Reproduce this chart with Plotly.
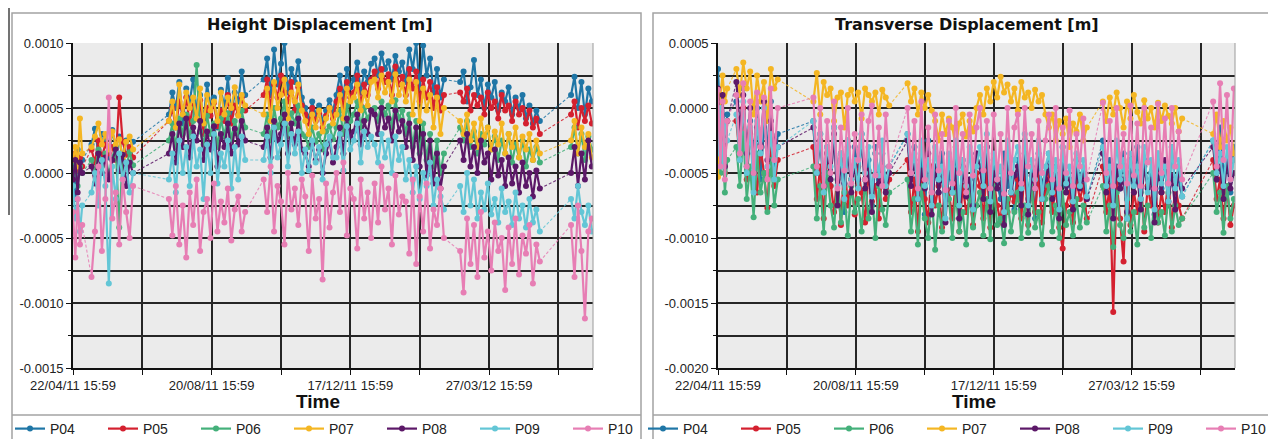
import plotly.graph_objects as go

# ---------------- data (values in units of 1e-5 m) ----------------
X_DAYS = [0, 2, 4, 6, 8,
          16, 19, 22, 25, 28, 31, 34, 37, 40, 43, 46, 49, 52,
          83, 86, 89, 92, 95, 98, 101, 104, 107, 110, 113, 116, 119, 122, 125, 128, 131, 134, 137, 140, 143, 146, 149,
          165, 168, 171, 174, 177, 180, 183, 186, 189, 192, 195, 198, 201, 204, 207, 210, 213, 216, 219, 222, 225,
          228, 231, 234, 237, 240, 243, 246, 249, 252, 255, 258, 261, 264, 267, 270, 273, 276, 279, 282, 285, 288,
          291, 294, 297, 300, 303, 306, 309, 312, 315, 318, 321,
          335, 338, 341, 344, 347, 350, 353, 356, 359, 362, 365, 368, 371, 374, 377, 380, 383, 386, 389, 392, 395,
          398, 401, 404,
          431, 434, 437, 440, 443, 446, 449]

TICK_DAYS = [0, 120, 240, 360]
TICK_LABELS = ["22/04/11 15:59", "20/08/11 15:59", "17/12/11 15:59", "27/03/12 15:59"]

H_TICKS = [0.0010, 0.0005, 0.0, -0.0005, -0.0010, -0.0015]
H_TICK_TEXT = ["0.0010", "0.0005", "0.0000", "-0.0005", "-0.0010", "-0.0015"]
T_TICKS = [0.0005, 0.0, -0.0005, -0.0010, -0.0015, -0.0020]
T_TICK_TEXT = ["0.0005", "0.0000", "-0.0005", "-0.0010", "-0.0015", "-0.0020"]

SERIES = ["P04", "P05", "P06", "P07", "P08", "P09", "P10"]
COLORS = ["#1f76a6", "#d4202f", "#44b07a", "#f4b623", "#5c1868", "#63c6d6", "#e77eb4"]

# Height displacement
H_P04 = [12, -20, 18, 4, 10,
         22, 34, 15, 30, 26, 12, 33, 20, 28, 10, 25, 18, 24,
         45, 62, 50, 70, 38, 65, 55, 72, 48, 60, 40, 68, 52, 58, 35, 64, 50, 73, 45, 62, 55, 78, 60,
         72, 88, 60, 95, 68, 84, 100, 62, 80, 70, 86, 58,
         50, 42, 55, 45, 52, 40, 48, 56, 47,
         60, 75, 58, 80, 66, 72, 85, 62, 78, 70, 84,
         88, 75, 92, 80, 86, 72, 90, 78, 85,
         70, 95, 80, 100, 65, 98, 75, 88, 62, 80, 58, 72,
         70, 78, 55, 66, 87, 60, 72, 50, 68, 58, 70, 48, 62, 55, 66, 45, 58, 50, 60, 42, 52, 38, 48, 40,
         60, 74, 50, 70, 45, 65, 55]
H_P05 = [10, 15, 2, 12, 5,
         18, 8, 25, 12, 22, 15, 20, 10, 58, 24, 14, 20, 12,
         40, 50, 35, 55, 45, 58, 38, 52, 42, 56, 30, 50, 44, 54, 36, 48, 40, 60, 38, 52, 45, 58, 48,
         60, 72, 50, 68, 58, 75, 62, 55, 70, 48, 66, 52,
         45, 38, 50, 40, 46, 35, 44, 50, 42,
         55, 65, 50, 70, 58, 62, 75, 52, 68, 60, 72,
         78, 65, 80, 70, 76, 60, 82, 68, 74,
         60, 80, 65, 78, 55, 72, 58, 70, 50, 66, 48, 60,
         62, 55, 65, 48, 60, 52, 58, 45, 62, 50, 55, 42, 60, 48, 52, 40, 55, 45, 50, 38, 48, 35, 42, 30,
         45, 55, 35, 50, 40, 52, 38]
H_P06 = [-5, 8, -10, 5, 0,
         10, 0, 18, 5, 15, -2, 12, 20, -42, 14, 4, 16, 6,
         25, 38, 20, 42, 30, 45, 28, 40, 83, 32, 22, 44, 30, 38, 20, 42, 28, 46, 25, 40, 30, 48, 35,
         30, 45, 25, 50, 35, 42, 55, 28, 46, 38, 52, 30,
         28, 20, 35, 24, 30, 18, 32, 36, 26,
         35, 48, 30, 52, 40, 45, 55, 35, 50, 42, 48,
         50, 40, 55, 45, 52, 35, 56, 42, 48,
         30, 45, 20, 40, 15, 38, 10, 30, 5, 25, 0, 15,
         35, 25, 40, 20, 32, 15, 30, 22, 35, 18, 28, 10, 25, 15, 30, 8, 22, 12, 25, 5, 18, 10, 20, 8,
         20, 35, 15, 30, 10, 28, 18]
H_P07 = [10, 20, 5, 42, 15,
         20, 28, 38, 22, 30, 18, 32, 22, 26, 12, 24, 28, 18,
         40, 55, 35, 68, 45, 62, 50, 58, 42, 65, 38, 60, 48, 55, 40, 62, 45, 58, 50, 66, 44, 60, 52,
         45, 65, 40, 70, 50, 60, 72, 42, 62, 55, 68, 48,
         40, 30, 45, 35, 48, 32, 42, 50, 38,
         45, 60, 42, 65, 55, 58, 68, 48, 62, 52, 70,
         72, 58, 75, 62, 70, 55, 76, 60, 68,
         55, 72, 45, 70, 40, 65, 48, 60, 35, 58, 30, 50,
         40, 30, 45, 25, 38, 20, 42, 28, 35, 18, 32, 22, 38, 15, 30, 20, 35, 12, 28, 18, 30, 10, 25, 15,
         25, 40, 15, 35, 20, 30, 12]
H_P08 = [-5, 10, -15, 8, 0,
         5, -8, 15, 0, 12, -5, 10, 18, 2, 14, -10, 8, 0,
         15, 30, 8, 38, 20, 42, 12, 35, 25, 40, 10, 32, 18, 36, 5, 30, 20, 38, 15, 34, 22, 40, 25,
         20, 35, 12, 40, 25, 30, 45, 15, 38, 22, 42, 18,
         15, 5, 22, 10, 18, 0, 15, 25, 8,
         20, 35, 15, 42, 28, 32, 45, 22, 40, 30, 48,
         45, 30, 50, 35, 42, 25, 48, 32, 40,
         20, 38, 10, 35, 5, 30, -2, 25, -8, 15, -12, 5,
         25, 10, 30, 5, 20, 0, 25, 8, 15, -5, 18, -2, 10, -10, 12, -8, 5, -15, 8, -10, 0, -18, 2, -12,
         0, 20, -10, 15, -5, 25, 5]
H_P09 = [-10, -35, -20, -45, -25,
         -15, 0, -25, 10, -10, -85, 5, -20, 15, -5, 8, -15, 0,
         -5, 15, -15, 25, 0, 20, -10, 28, 5, 18, -20, 22, 0, 30, -8, 15, 5, 25, -12, 20, -5, 28, 10,
         10, 28, 0, 35, 12, 22, 38, 5, 30, 15, 32, 0,
         18, 2, 25, 8, 20, -5, 22, 28, 12,
         12, 30, 2, 36, 18, 25, 38, 8, 32, 20, 28,
         22, 8, 30, 12, 25, 0, 28, 10, 20,
         -5, 10, -15, 5, -20, 0, -10, 8, -25, -5, -18, -28,
         -10, -30, 0, -25, -5, -35, -15, -28, -8, -32, -20, -38, -12, -30, -22, -40, -15, -35, -25, -42, -20,
         -38, -28, -45,
         -20, -35, -10, -30, -40, -25, -45]
H_P10 = [-30, -65, -20, -55, -40,
         -80, -45, 5, -60, -20, 58, -35, -15, -55, -5, -30, -50, -10,
         -20, -48, -10, -55, -25, -65, -15, -40, -5, -60, -30, -20, -50, -8, -45, -22, -38, -12, -52, -28,
         -18, -45, -30,
         -5, -30, 5, -45, -10, -22, -55, 0, -28, -12, -40, -5,
         -18, -60, -2, -35, -20, -82, -8, -42, -15,
         0, -30, 8, -48, -12, -20, -58, -5, -35, -15, -50,
         -8, -38, 5, -28, -12, -55, -2, -32, -18,
         -22, -62, -5, -70, -18, -45, -8, -58, -28, -40, -12, -50,
         -60, -92, -35, -70, -40, -80, -30, -65, -45, -75, -38, -60, -50, -90, -42, -70, -35, -78, -48, -62,
         -40, -85, -55, -68,
         -40, -80, -25, -60, -112, -45, -35]

# Transverse displacement
T_P04 = [30, -20, 10, -40, -5,
         5, -25, 15, -45, -10, -35, 0, -55, -15, -30, 5, -50, -20,
         -10, -45, -20, -55, -30, -60, -15, -50, -35, -80, -25, -55, -30, -60, -20, -55, -40, -75, -30, -55,
         -35, -62, -45,
         -20, -55, -30, -60, -40, -82, -25, -58, -45, -65, -35, -60,
         -50, -65, -30, -85, -40, -60, -55, -70, -35,
         -45, -62, -30, -80, -40, -58, -70, -35, -60, -50, -78,
         -40, -62, -25, -70, -45, -85, -35, -60, -50,
         -35, -62, -45, -78, -30, -60, -55, -80, -40, -58, -50, -70,
         -25, -60, -40, -75, -50, -62, -35, -85, -45, -58, -30, -70, -40, -60, -50, -82, -35, -62, -45, -75,
         -30, -60, -55, -68,
         -25, -55, -15, -50, -40, -65, -30]
T_P05 = [0, -30, -15, -50, -10,
         -10, -40, 0, -55, -20, -45, -65, -30, -50, -77, -25, -60, -40,
         -30, -70, -45, -85, -35, -60, -80, -50, -90, -40, -75, -55, -82, -45, -65, -88, -50, -72, -60, -85,
         -45, -70, -55,
         -40, -80, -55, -95, -50, -70, -88, -45, -75, -60, -92, -50,
         -65, -85, -55, -95, -60, -80, -70, -90, -50,
         -60, -85, -45, -92, -55, -75, -88, -50, -80, -65, -72,
         -55, -85, -45, -90, -60, -80, -50, -88, -65,
         -50, -80, -60, -92, -108, -75, -65, -88, -55, -70, -60, -85,
         -45, -80, -60, -157, -55, -85, -118, -50, -90, -65, -80, -55, -95, -60, -75, -50, -88, -65, -80, -55,
         -92, -60, -75, -85,
         -40, -70, -55, -85, -60, -90, -75]
T_P06 = [-20, -50, -30, -65, -40,
         -30, -60, -20, -70, -45, -84, -35, -65, -50, -80, -40, -75, -55,
         -45, -85, -60, -96, -50, -75, -92, -55, -88, -65, -98, -60, -80, -70, -95, -55, -85, -65, -100, -60,
         -78, -90, -65,
         -55, -95, -70, -105, -60, -85, -100, -65, -109, -75, -95, -60,
         -70, -100, -65, -95, -80, -105, -60, -92, -75,
         -65, -98, -70, -101, -60, -90, -85, -104, -70, -95, -80,
         -65, -100, -75, -96, -60, -92, -80, -105, -70,
         -60, -95, -75, -100, -65, -90, -80, -98, -70, -92, -75, -88,
         -60, -95, -75, -107, -65, -90, -100, -70, -95, -80, -105, -65, -92, -75, -100, -70, -88, -80, -98,
         -65, -95, -75, -90, -85,
         -50, -80, -65, -96, -60, -85, -70]
T_P07 = [-53, 10, 25, 5, 15,
         30, 10, 35, 15, 28, -5, 25, 5, 20, -10, 30, 15, 22,
         5, 27, -5, 20, 10, 15, -10, 8, 12, -15, 10, 14, 5, 12, -8, 15, 10, 5, 12, -5, 14, 8, 2,
         19, 5, 15, -5, 12, 0, 10, -2,
         -10, -25, -5, -20, -8, -15, -30, -12, -5, -22, -10, -18,
         0, 10, -5, 15, 5, 20, 8, 24, 12, 18, 5, 15, -2, 20, 8, 12, 0, 14, 5, 10, -5,
         -15, -5, -25, -10, -20, -8, -30, -12, -18, -5, -25, -15,
         5, -10, 8, -5, 12, 0, -15, 5, -8, 10, -3, -12, 6, -8, 0, -15, 4, -10, 2, -6, -12, 0, -18, -8,
         -20, -5, -30, -10, -25, -15, -35]
T_P08 = [15, -25, 10, -45, -10,
         20, -15, 10, -35, 0, -50, -15, -28, 5, -40, -10, -25, -30,
         -15, -50, -25, -60, -35, -55, -20, -75, -40, -58, -30, -65, -45, -55, -25, -62, -48, -80, -35, -58,
         -45, -65, -50,
         -25, -60, -40, -70, -48, -62, -35, -82, -45, -65, -50, -88,
         -40, -62, -48, -85, -45, -68, -55, -75, -35,
         -45, -70, -30, -80, -50, -62, -55, -90, -40, -65, -52,
         -45, -75, -35, -82, -52, -62, -40, -70, -55,
         -45, -70, -52, -85, -40, -65, -55, -78, -48, -62, -52, -70,
         -35, -65, -50, -85, -45, -62, -55, -80, -40, -65, -52, -78, -45, -62, -55, -88, -48, -65, -40, -72,
         -52, -78, -45, -62,
         -30, -55, -45, -70, -40, -62, -50]
T_P09 = [-35, 0, -45, -10, -25,
         -5, -40, 5, -50, -15, -65, -10, -35, 0, -45, -20, -55, -30,
         -10, -50, -20, -65, -30, -45, -15, -60, -35, -70, -25, -55, -40, -62, -20, -50, -30, -68, -35, -52,
         -25, -60, -45,
         -20, -50, -35, -70, -25, -60, -40, -75, -30, -55, -45, -85,
         -35, -65, -25, -75, -40, -60, -30, -78, -45,
         -30, -60, -20, -72, -35, -55, -45, -80, -25, -65, -40,
         -30, -62, -20, -75, -40, -55, -25, -70, -45,
         -35, -65, -40, -78, -30, -58, -45, -72, -35, -60, -40, -68,
         -30, -60, -45, -75, -25, -55, -40, -85, -35, -60, -45, -70, -30, -65, -40, -78, -35, -58, -45, -72,
         -30, -62, -40, -68,
         -25, -50, -35, -60, -30, -55, -40]
T_P10 = [14, -45, 5, -55, -10,
         10, -35, 19, -45, 5, -50, 12, -30, 8, -55, 15, -40, 0,
         8, -45, 0, -60, -10, -50, 5, -62, -15, -48, 0, -58, -20, -40, -5, -55, -10, 2, -52, -15, -60, -5, -45,
         0, -50, -10, -62, 5, -55, -15, -65, -5, -48, -20, -63,
         -10, -58, 0, -50, -20, -65, -5, -52, -15,
         0, -48, -10, -62, -5, -55, -20, -66, 0, -50, -15,
         -5, -58, 0, -45, -20, -62, -10, -50, -25,
         -5, -55, 0, -62, -15, -50, -2, -60, -20, -45, -8, -55,
         4, -50, -10, -60, 0, -45, -20, -58, 2, -52, -12, -60, 0, -42, -15, -62, 3, -50, -8, -58, 0, -45,
         -18, -55,
         5, -45, 19, -40, 10, -55, 15]

HEIGHT = [H_P04, H_P05, H_P06, H_P07, H_P08, H_P09, H_P10]
TRANSV = [T_P04, T_P05, T_P06, T_P07, T_P08, T_P09, T_P10]
UNIT = 1e-5
GAP_DAYS = 6

for arr in HEIGHT + TRANSV:
    if len(arr) != len(X_DAYS):
        raise ValueError(f"length mismatch {len(arr)} vs {len(X_DAYS)}")

# ---------------- figure ----------------
# The page body keeps the browser's default 8 px margin, so the figure is 8 px
# smaller on each axis and every position below is given in page pixels.
PAGE_W, PAGE_H = 1276, 439
OFF = 8
W, HH = PAGE_W - OFF, PAGE_H - OFF
FONT = "Liberation Sans, Arial, sans-serif"
TITLE_FONT = "DejaVu Sans, Liberation Sans, Arial, sans-serif"
GRID = "#262626"


def fx(p):
    return (p - OFF) / W


def fy(p):
    return 1 - (p - OFF) / HH


def split(xs, ys):
    sx, sy, dx, dy = [], [], [], []
    for i, (x, y) in enumerate(zip(xs, ys)):
        if i > 0 and x - xs[i - 1] > GAP_DAYS:
            sx.append(None)
            sy.append(None)
            dx += [xs[i - 1], x, None]
            dy += [ys[i - 1], y, None]
        sx.append(x)
        sy.append(y)
    return sx, sy, dx, dy


fig = go.Figure()

panels = [(HEIGHT, "x", "y", "legend"), (TRANSV, "x2", "y2", "legend2")]
for data, xa, ya, lg in panels:
    # dashed connectors between measurement campaigns
    for name, col, vals in zip(SERIES, COLORS, data):
        yv = [v * UNIT for v in vals]
        sx, sy, dx, dy = split(X_DAYS, yv)
        fig.add_trace(go.Scatter(x=dx, y=dy, mode="lines", xaxis=xa, yaxis=ya,
                                 line=dict(color=col, width=1.1, dash="3px,2px"),
                                 opacity=0.85, showlegend=False, legendgroup=lg + name,
                                 hoverinfo="skip"))
    for name, col, vals in zip(SERIES, COLORS, data):
        yv = [v * UNIT for v in vals]
        sx, sy, dx, dy = split(X_DAYS, yv)
        fig.add_trace(go.Scatter(x=sx, y=sy, mode="lines+markers", name=name, xaxis=xa, yaxis=ya,
                                 line=dict(color=col, width=2.2),
                                 marker=dict(color=col, size=6, symbol="circle"),
                                 legend=lg, legendgroup=lg + name, connectgaps=False))


def xaxis_cfg(dom, anchor):
    return dict(domain=dom, anchor=anchor, range=[0, 450], tickmode="array",
                tickvals=TICK_DAYS, ticktext=TICK_LABELS, ticks="outside", ticklen=5,
                tickcolor="#111", tickwidth=1.2,
                showgrid=True, gridcolor=GRID, gridwidth=1.6,
                minor=dict(tickmode="linear", tick0=0, dtick=60, ticks="outside", ticklen=5,
                           tickcolor="#111", showgrid=True, gridcolor=GRID, gridwidth=1.6),
                showline=True, linecolor="#111", linewidth=1.6, zeroline=False,
                tickfont=dict(family=FONT, size=13, color="#222"), fixedrange=True)


def yaxis_cfg(dom, anchor, rng, tv, tt):
    return dict(domain=dom, anchor=anchor, range=rng, tickmode="array",
                tickvals=tv, ticktext=tt, ticks="outside", ticklen=5, tickcolor="#111",
                tickwidth=1.2, showgrid=True, gridcolor=GRID, gridwidth=1.6,
                minor=dict(tickmode="linear", tick0=0, dtick=0.00025, ticks="outside", ticklen=3,
                           tickcolor="#111", showgrid=True, gridcolor=GRID, gridwidth=1.6),
                showline=True, linecolor="#111", linewidth=1.6, zeroline=False,
                tickfont=dict(family=FONT, size=13, color="#222"), fixedrange=True)


ydom = [fy(368), fy(43)]
leg_common = dict(orientation="h", xanchor="left", yanchor="middle", y=fy(429),
                  entrywidth=48, entrywidthmode="pixels",
                  font=dict(family=FONT, size=14, color="#222"),
                  bgcolor="rgba(0,0,0,0)", borderwidth=0, itemwidth=30, traceorder="normal")

shapes = [
    # panel frames
    dict(type="rect", xref="paper", yref="paper", x0=fx(12), x1=fx(641), y0=fy(470), y1=fy(13),
         line=dict(color="#a3a3a3", width=1.5), layer="below"),
    dict(type="rect", xref="paper", yref="paper", x0=fx(653), x1=fx(1300), y0=fy(470), y1=fy(13),
         line=dict(color="#a3a3a3", width=1.5), layer="below"),
    # legend separators
    dict(type="line", xref="paper", yref="paper", x0=fx(12), x1=fx(641), y0=fy(415), y1=fy(415),
         line=dict(color="#a3a3a3", width=1.5)),
    dict(type="line", xref="paper", yref="paper", x0=fx(653), x1=fx(1290), y0=fy(415), y1=fy(415),
         line=dict(color="#a3a3a3", width=1.5)),
    # stray dark line at far left
    dict(type="line", xref="paper", yref="paper", x0=fx(9), x1=fx(9), y0=fy(215), y1=fy(8),
         line=dict(color="#444", width=1.5)),
    # right edges of plot areas
    dict(type="line", xref="x domain", yref="y domain", x0=1, x1=1, y0=0, y1=1,
         line=dict(color="#9a9a9a", width=1)),
    dict(type="line", xref="x2 domain", yref="y2 domain", x0=1, x1=1, y0=0, y1=1,
         line=dict(color="#9a9a9a", width=1)),
]

annotations = [
    dict(text="<b>Height Displacement [m]</b>", x=fx(320), y=fy(25), xref="paper", yref="paper",
         showarrow=False, font=dict(family=TITLE_FONT, size=16, color="#111"),
         xanchor="center", yanchor="middle"),
    dict(text="<b>Transverse Displacement [m]</b>", x=fx(967), y=fy(25), xref="paper", yref="paper",
         showarrow=False, font=dict(family=TITLE_FONT, size=16, color="#111"),
         xanchor="center", yanchor="middle"),
    dict(text="<b>Time</b>", x=fx(318), y=fy(401), xref="paper", yref="paper",
         showarrow=False, font=dict(family=FONT, size=19, color="#111"), xanchor="center", yanchor="middle"),
    dict(text="<b>Time</b>", x=fx(974), y=fy(401), xref="paper", yref="paper",
         showarrow=False, font=dict(family=FONT, size=19, color="#111"), xanchor="center", yanchor="middle"),
]

fig.update_layout(
    width=W, height=HH, autosize=False,
    margin=dict(l=0, r=0, t=0, b=0, pad=0, autoexpand=False),
    paper_bgcolor="white", plot_bgcolor="#ebebeb",
    font=dict(family=FONT, color="#222"),
    xaxis=xaxis_cfg([fx(73), fx(593)], "y"),
    yaxis=yaxis_cfg(ydom, "x", [-0.0015, 0.0010], H_TICKS, H_TICK_TEXT),
    xaxis2=xaxis_cfg([fx(718), fx(1235)], "y2"),
    yaxis2=yaxis_cfg(ydom, "x2", [-0.0020, 0.0005], T_TICKS, T_TICK_TEXT),
    legend=dict(x=fx(10), **leg_common),
    legend2=dict(x=fx(643), **leg_common),
    shapes=shapes,
    annotations=annotations,
    showlegend=True,
    hovermode=False,
)

fig.write_html("out.html")
